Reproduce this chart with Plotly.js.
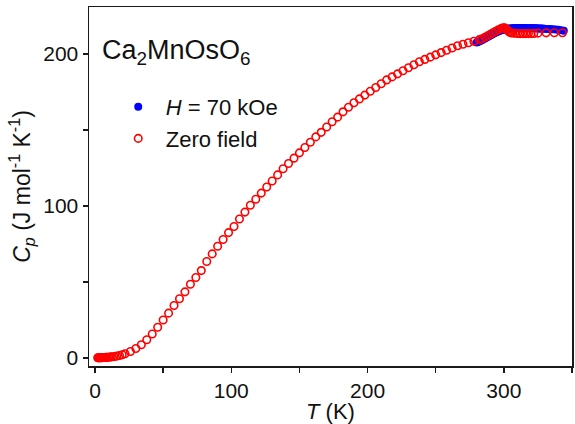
<!DOCTYPE html>
<html>
<head>
<meta charset="utf-8">
<script src="https://cdn.plot.ly/plotly-3.0.1.min.js"></script>
<style>html,body{margin:0;padding:0;background:#fff;}#chart{width:575px;height:424px;}</style>
</head>
<body>
<div id="chart"></div>
<script>
// Zero-field heat capacity
var zeroT = [2,2.5,3,3.5,4,4.5,5,5.5,6,6.5,7,7.5,8,9,10,11,12,14,16,18,20,22,26,30,34,38,42,46,50,54,58,62,66,70,74,78,82,86,90,94,98,102,106,110,114,118,122,126,130,134,138,142,146,150,154,158,162,166,170,174,178,182,186,190,194,198,202,206,210,214,218,222,226,230,234,238,242,246,250,254,258,262,266,270,274,278,282,284,286,288,290,292,294,296,298,299,300,301,302,303,304,305,306,308,310,312,314,316,318,320,322,325,331,337,343];
var zeroCp = [0.1,0.1,0.1,0.1,0.2,0.2,0.2,0.2,0.3,0.3,0.3,0.3,0.4,0.4,0.5,0.6,0.7,0.9,1.2,1.6,2.1,2.8,4.2,6.2,8.7,12,15.8,20.2,25,29.5,34.5,39,43.5,48.5,53,57.5,63.5,68.5,73.5,78,82.5,86.5,91.5,96,100.5,104.5,108.5,112.5,116.5,120.5,124.5,128,131.5,135,138.5,142,145.5,148.5,152,155.5,158.5,162,165,168,170.5,173,175.5,178,180.5,183,185,187,189,191,193,195,196.5,198,199.5,201,202.5,204,205.5,206.5,207.5,208.5,209.5,210,211,212,213,214,215,216,216.8,217.2,217.3,217.1,216.3,215.3,214.5,214.1,213.9,213.7,213.6,213.5,213.5,213.5,213.5,213.6,213.6,213.8,214,214.1,214.1];
// H = 70 kOe heat capacity
var fieldT = [280,281,282,283,284,285,286,287,288,289,290,291,292,293,294,295,296,297,298,299,300,301,302,303,304,305,306,307,308,309,310,311,312,313,314,315,316,317,318,319,320,321,322,323,324,325,326,327,328,329,330,332,334,336,338,340,342,344];
var fieldCp = [207.6,208,208.4,208.8,209.2,209.7,210.2,210.7,211.2,211.7,212.2,212.7,213.2,213.7,214.2,214.6,215,215.4,215.7,216,216.2,216.4,216.6,216.7,216.8,216.9,217,217,217.1,217.1,217.1,217.2,217.2,217.2,217.2,217.2,217.2,217.1,217.1,217.1,217.1,217,217,217,217,216.9,216.9,216.8,216.8,216.7,216.7,216.6,216.5,216.4,216.2,216,215.7,215.4];

var xMajor = [0,100,200,300];
var yMajor = [0,100,200];

var FONT = 'Liberation Sans, Arial, sans-serif';

var traces = [
  {x: fieldT, y: fieldCp, type: 'scatter', mode: 'markers', name: '<i>H</i> = 70 kOe',
   marker: {symbol: 'circle', size: 8, color: '#0000ff'}},
  {x: zeroT, y: zeroCp, type: 'scatter', mode: 'markers', name: 'Zero field',
   marker: {symbol: 'circle-open', size: 7.5, color: '#ff0000', line: {width: 1.6, color: '#ff0000'}}}
];

var axisCommon = {
  showgrid: false, zeroline: false, showline: true, linecolor: '#1a1a1a', linewidth: 1.5,
  mirror: true, ticks: 'outside', ticklen: 5, tickwidth: 1.5, tickcolor: '#1a1a1a',
  tickfont: {family: FONT, size: 21, color: '#111'}
};

var layout = {
  width: 575, height: 424,
  margin: {l: 89, r: 3, t: 7, b: 58},
  paper_bgcolor: '#fff', plot_bgcolor: '#fff',
  showlegend: true,
  legend: {x: 0.045, y: 0.78, xanchor: 'left', yanchor: 'top', bgcolor: 'rgba(0,0,0,0)',
    font: {family: FONT, size: 22, color: '#111'}, itemwidth: 45, tracegroupgap: 0},
  xaxis: Object.assign({}, axisCommon, {
    range: [-4.4, 350], tickmode: 'array', tickvals: xMajor, ticktext: xMajor.map(String),
    minor: {dtick: 50, tick0: 0, ticks: 'outside', ticklen: 5, tickwidth: 1.5, tickcolor: '#1a1a1a'},
    title: {text: '<i>T</i> (K)', font: {family: FONT, size: 22, color: '#111'}, standoff: 4}
  }),
  yaxis: Object.assign({}, axisCommon, {
    range: [-5.3, 231], tickmode: 'array', tickvals: yMajor, ticktext: yMajor.map(String),
    minor: {dtick: 50, tick0: 0, ticks: 'outside', ticklen: 5, tickwidth: 1.5, tickcolor: '#1a1a1a'},
    title: {text: '<i>C</i><sub><i>p</i></sub> (J mol<sup>-1</sup> K<sup>-1</sup>)', font: {family: FONT, size: 23, color: '#111'}, standoff: 6}
  }),
  annotations: [{
    xref: 'paper', yref: 'paper', x: 0.022, y: 0.875, xanchor: 'left', yanchor: 'middle', showarrow: false,
    text: 'Ca<sub>2</sub>MnOsO<sub>6</sub>',
    font: {family: FONT, size: 27, color: '#111'}
  }]
};

Plotly.newPlot('chart', traces, layout, {displayModeBar: false, staticPlot: true});
</script>
</body>
</html>
